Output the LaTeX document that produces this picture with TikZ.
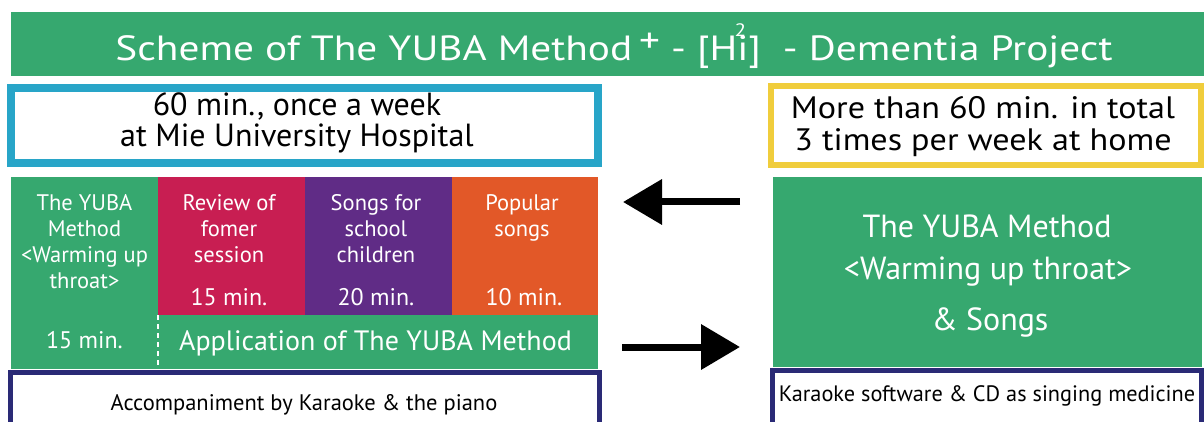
\documentclass[tikz,border=0pt]{standalone}
\usepackage{fontspec}
\setmainfont{PT Sans}
\usetikzlibrary{arrows.meta}
\definecolor{ygreen}{RGB}{54,168,111}
\definecolor{ycrimson}{RGB}{200,30,82}
\definecolor{ypurple}{RGB}{96,44,134}
\definecolor{yorange}{RGB}{226,88,40}
\definecolor{ycyan}{RGB}{40,165,200}
\definecolor{yyellow}{RGB}{240,205,60}
\definecolor{ynavy}{RGB}{42,42,118}
\tikzset{
  cellbox/.style={inner sep=0pt, outer sep=0pt, anchor=north west},
  framebox/.style={draw=#1, line width=7pt, fill=white, inner sep=0pt, outer sep=0pt},
  navybox/.style={draw=ynavy, line width=5pt, fill=white, inner sep=0pt, outer sep=0pt},
  celltext/.style={text=white, align=center, inner sep=0pt, font=\fontsize{22.5}{26}\selectfont},
  mintext/.style={text=white, inner sep=0pt, font=\fontsize{24}{28}\selectfont},
  blacktext/.style={text=black, align=center, inner sep=0pt},
  righttext/.style={text=white, inner sep=0pt, font=\fontsize{32}{34}\selectfont},
  bigarrow/.style={line width=7pt, -{Triangle[length=39pt,width=44pt]}}
}
\begin{document}
\begin{tikzpicture}[x=1pt,y=-1pt]
\useasboundingbox (0,0) rectangle (1204,422);
\clip (0,0) rectangle (1204,422);
% title
\node[cellbox, fill=ygreen, minimum width=1193pt, minimum height=64pt] (title) at (11,12) {};
\node[text=white, inner sep=0pt, font=\fontsize{35}{38}\selectfont] (titletext) at (614,46)
  {\scalebox{1.18}[1]{Scheme of The YUBA Method\,\raisebox{0.45ex}{+} - [Hi\llap{\raisebox{1.4ex}{\fontsize{18}{18}\selectfont 2}\kern0.05em}]\ \ - Dementia Project}};
% top boxes
\node[framebox=ycyan, line width=8pt, minimum width=587pt, minimum height=75pt] (hosp) at (304.5,125.5) {};
\node[blacktext, font=\fontsize{32}{31}\selectfont] (hosptext) at (297,123) {60 min., once a week\\at Mie University Hospital};
\node[framebox=yyellow, line width=6pt, minimum width=430pt, minimum height=79pt] (home) at (986,125.5) {};
\node[blacktext, font=\fontsize{31}{32}\selectfont] (hometext) at (983,127) {\scalebox{1.1}[1]{More than 60 min. in total}\\\scalebox{1.1}[1]{3 times per week at home}};
% left session block
\node[cellbox, fill=ygreen, minimum width=147pt, minimum height=192pt] (c1) at (11,177) {};
\node[cellbox, fill=ycrimson, minimum width=147pt, minimum height=138pt] (c2) at (158,177) {};
\node[cellbox, fill=ypurple, minimum width=147pt, minimum height=138pt] (c3) at (305,177) {};
\node[cellbox, fill=yorange, minimum width=146pt, minimum height=138pt] (c4) at (452,177) {};
\node[cellbox, fill=ygreen, minimum width=440pt, minimum height=54pt] (app) at (158,315) {};
\draw[white, line width=1.3pt, dash pattern=on 5pt off 4pt] (app.north west) -- (app.south west);
\node[celltext, anchor=north] (t1) at (84.5,194) {The YUBA\\Method\\<Warming up\\throat>};
\node[celltext, anchor=north] (t2) at (229,194) {Review of\\fomer\\session};
\node[celltext, anchor=north] (t3) at (376,194) {Songs for\\school\\children};
\node[celltext, anchor=north] (t4) at (522,194) {Popular\\songs};
\node[mintext] (m2) at (229,297) {15 min.};
\node[mintext] (m3) at (376,297) {20 min.};
\node[mintext] (m4) at (524,297) {10 min.};
\node[mintext] (m1) at (84.5,340) {15 min.};
\node[text=white, inner sep=0pt, font=\fontsize{28}{30}\selectfont] (apptext) at (375.5,343) {Application of The YUBA Method};
% right block
\node[cellbox, fill=ygreen, minimum width=429pt, minimum height=190pt] (rbox) at (773,177) {};
\node[righttext] (r1) at (987,226) {The YUBA Method};
\node[righttext] (r2) at (988,272) {<Warming up throat>};
\node[righttext] (r3) at (990,322) {\& Songs};
% bottom boxes
\node[navybox, minimum width=589pt, minimum height=80pt] (acc) at (305,412.5) {};
\node[inner sep=0pt, font=\fontsize{22.5}{24}\selectfont] (acctext) at (304,405) {Accompaniment by Karaoke \& the piano};
\node[navybox, minimum width=429pt, minimum height=80pt] (kar) at (987,410.5) {};
\node[inner sep=0pt, font=\fontsize{22.3}{24}\selectfont] (kartext) at (987,396) {Karaoke software \& CD as singing medicine};
% arrows
\coordinate (la1) at (740,202);
\coordinate (la2) at (623,202);
\coordinate (ra1) at (622,347);
\coordinate (ra2) at (740,347);
\draw[bigarrow] (la1) -- (la2);
\draw[bigarrow] (ra1) -- (ra2);
\end{tikzpicture}
\end{document}
